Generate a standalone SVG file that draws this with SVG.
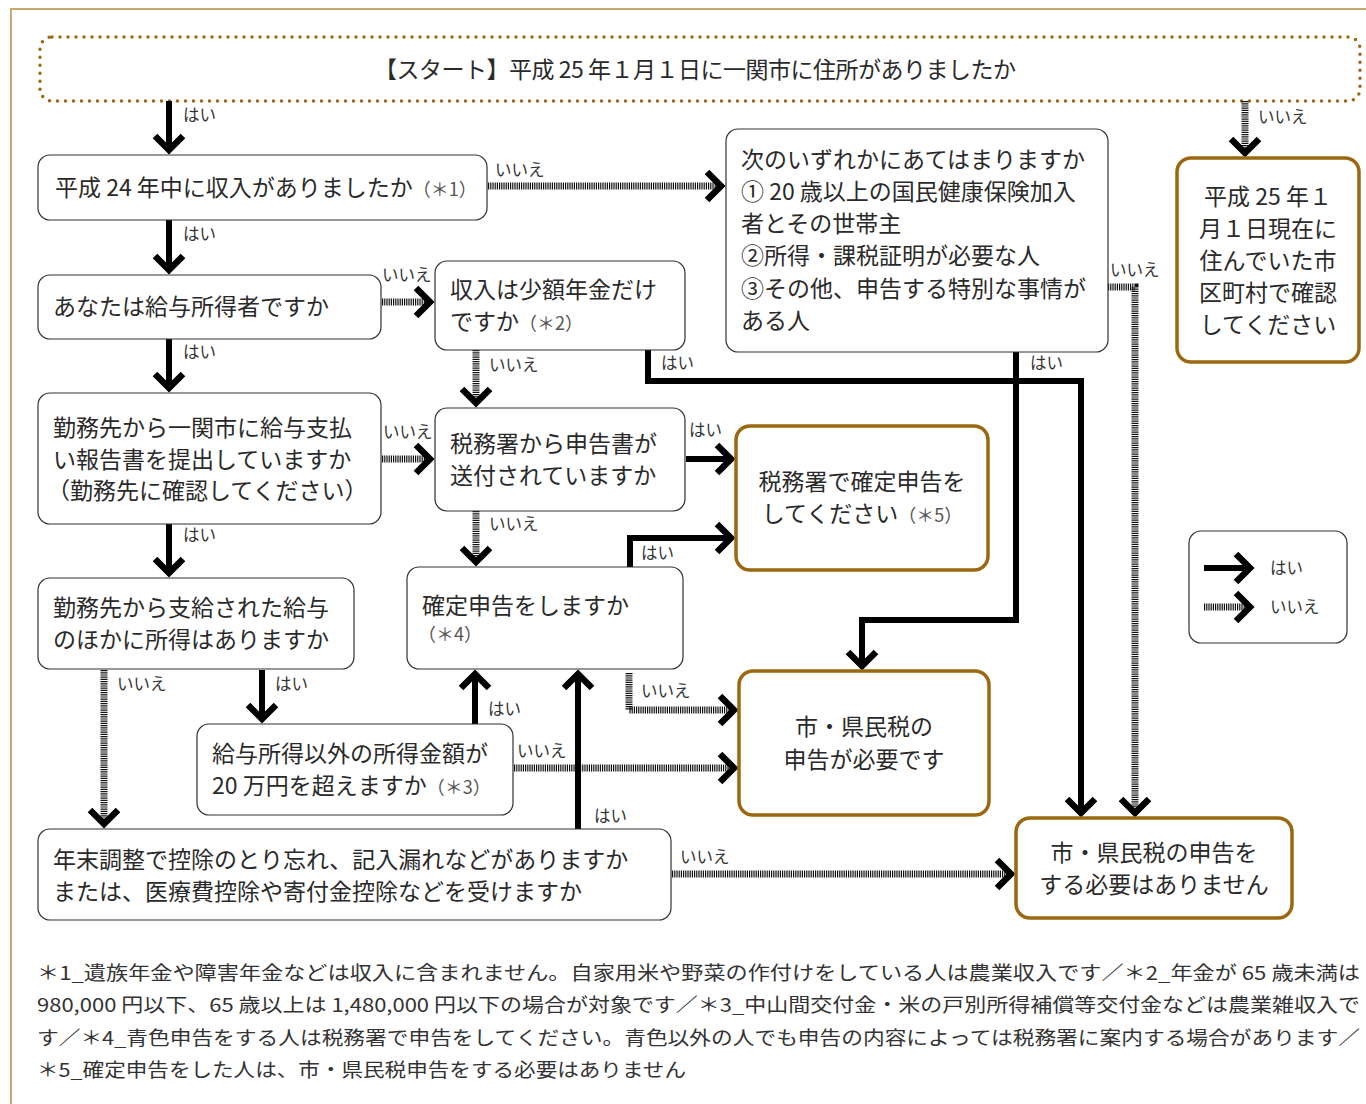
<svg xmlns="http://www.w3.org/2000/svg" width="1366" height="1104" viewBox="0 0 1366 1104">
<defs>
<marker id="ah" markerUnits="userSpaceOnUse" viewBox="-25 -20 30 40" markerWidth="30" markerHeight="40" refX="0" refY="0" orient="auto" overflow="visible">
<path d="M-14,-14 L0,0 L-14,14" fill="none" stroke="#000" stroke-width="6.5" stroke-linejoin="miter"/>
</marker>
<style>
text{font-family:"Noto Sans CJK JP","Noto Sans",sans-serif;fill:#2a2a2a}
.t{font-size:23px}
.s{font-size:18px;fill:#555}
.l{font-size:16.5px;fill:#333}
.f{font-size:19px;fill:#333}
.box{fill:#fff;stroke:#333;stroke-width:1.2}
.res{fill:#fff;stroke:#9b680f;stroke-width:3.5}
.y{fill:none;stroke:#000;stroke-width:6;marker-end:url(#ah)}
.n{fill:none;stroke:#111;stroke-width:7;stroke-dasharray:1.2 1;marker-end:url(#ah)}
.c{text-anchor:middle}
</style>
</defs>
<rect width="1366" height="1104" fill="#fff"/>
<path d="M11,1104 V9 H1366" fill="none" stroke="#c8a870" stroke-width="2"/>

<g id="start">
<rect x="40" y="37" width="1320" height="64" rx="12" fill="none" stroke="#9b680f" stroke-width="3.5" stroke-dasharray="0 8" stroke-linecap="round"/>
<text class="t" x="374" y="78" textLength="642" lengthAdjust="spacing">【スタート】平成 25 年１月１日に一関市に住所がありましたか</text>
</g>

<g id="connectors">
<path class="y" d="M169,101 V150"/>
<path class="n" d="M1245,101 V153"/>
<path class="n" d="M488,186 H721"/>
<path class="y" d="M169,220 V270"/>
<path class="n" d="M382,302 H430"/>
<path class="y" d="M169,339 V388"/>
<path class="n" d="M476,350 V403"/>
<path class="y" d="M648,350 V381 H1081 V813"/>
<path class="y" d="M1016,352 V620 H862 V666"/>
<path class="n" d="M1108,287 H1135 V813"/>
<path class="n" d="M382,459 H430"/>
<path class="y" d="M169,524 V573"/>
<path class="y" d="M686,459 H731"/>
<path class="n" d="M476,511 V562"/>
<path class="y" d="M630,567 V538 H731"/>
<path class="n" d="M629,673 V710 H734"/>
<path class="n" d="M104,670 V824"/>
<path class="y" d="M262,670 V719"/>
<path class="y" d="M475,724 V674"/>
<path class="n" d="M514,768 H734"/>
<path class="y" d="M578,829 V674"/>
<path class="n" d="M672,874 H1011"/>
<text class="l" x="183" y="121">はい</text>
<text class="l" x="1258" y="123">いいえ</text>
<text class="l" x="495" y="176">いいえ</text>
<text class="l" x="183" y="240">はい</text>
<text class="l" x="382" y="281">いいえ</text>
<text class="l" x="183" y="358">はい</text>
<text class="l" x="489" y="371">いいえ</text>
<text class="l" x="661" y="369">はい</text>
<text class="l" x="1030" y="369">はい</text>
<text class="l" x="1110" y="276">いいえ</text>
<text class="l" x="383" y="438">いいえ</text>
<text class="l" x="689" y="436">はい</text>
<text class="l" x="183" y="541">はい</text>
<text class="l" x="489" y="530">いいえ</text>
<text class="l" x="641" y="559">はい</text>
<text class="l" x="641" y="697">いいえ</text>
<text class="l" x="117" y="690">いいえ</text>
<text class="l" x="275" y="690">はい</text>
<text class="l" x="488" y="715">はい</text>
<text class="l" x="517" y="757">いいえ</text>
<text class="l" x="594" y="822">はい</text>
<text class="l" x="680" y="863">いいえ</text>
</g>

<g id="q1">
<rect class="box" x="38" y="155" width="449" height="65" rx="12"/>
<text class="t" x="55" y="196">平成 24 年中に収入がありましたか<tspan class="s">（＊1）</tspan></text>
</g>
<g id="q2">
<rect class="box" x="38" y="275" width="343" height="64" rx="12"/>
<text class="t" x="53" y="315">あなたは給与所得者ですか</text>
</g>
<g id="q3">
<rect class="box" x="38" y="393" width="343" height="131" rx="12"/>
<text class="t" x="53" y="436">勤務先から一関市に給与支払</text>
<text class="t" x="53" y="468">い報告書を提出していますか</text>
<text class="t" x="47" y="499">（勤務先に確認してください）</text>
</g>
<g id="q4">
<rect class="box" x="38" y="578" width="316" height="91" rx="12"/>
<text class="t" x="53" y="616">勤務先から支給された給与</text>
<text class="t" x="53" y="648">のほかに所得はありますか</text>
</g>
<g id="q5">
<rect class="box" x="197" y="724" width="316" height="91" rx="12"/>
<text class="t" x="212" y="762">給与所得以外の所得金額が</text>
<text class="t" x="212" y="794">20 万円を超えますか<tspan class="s">（＊3）</tspan></text>
</g>
<g id="q6">
<rect class="box" x="38" y="829" width="633" height="91" rx="12"/>
<text class="t" x="53" y="868">年末調整で控除のとり忘れ、記入漏れなどがありますか</text>
<text class="t" x="53" y="900">または、医療費控除や寄付金控除などを受けますか</text>
</g>
<g id="q7">
<rect class="box" x="435" y="261" width="250" height="89" rx="12"/>
<text class="t" x="450" y="298">収入は少額年金だけ</text>
<text class="t" x="450" y="330">ですか<tspan class="s">（＊2）</tspan></text>
</g>
<g id="q8">
<rect class="box" x="435" y="408" width="250" height="103" rx="12"/>
<text class="t" x="450" y="452">税務署から申告書が</text>
<text class="t" x="450" y="484">送付されていますか</text>
</g>
<g id="q9">
<rect class="box" x="407" y="567" width="276" height="102" rx="12"/>
<text class="t" x="422" y="614">確定申告をしますか</text>
<text class="s" x="418" y="641">（＊4）</text>
</g>
<g id="q10">
<rect class="box" x="726" y="129" width="382" height="223" rx="12"/>
<text class="t" x="741" y="168">次のいずれかにあてはまりますか</text>
<text class="t" x="741" y="200">① 20 歳以上の国民健康保険加入</text>
<text class="t" x="741" y="232">者とその世帯主</text>
<text class="t" x="741" y="264">②所得・課税証明が必要な人</text>
<text class="t" x="741" y="297">③その他、申告する特別な事情が</text>
<text class="t" x="741" y="329">ある人</text>
</g>
<g id="r1">
<rect class="res" x="736" y="426" width="252" height="144" rx="14"/>
<text class="t c" x="862" y="490">税務署で確定申告を</text>
<text class="t c" x="862" y="522">してください<tspan class="s">（＊5）</tspan></text>
</g>
<g id="r2">
<rect class="res" x="739" y="671" width="250" height="144" rx="14"/>
<text class="t c" x="864" y="735">市・県民税の</text>
<text class="t c" x="864" y="768">申告が必要です</text>
</g>
<g id="r3">
<rect class="res" x="1016" y="818" width="276" height="100" rx="14"/>
<text class="t c" x="1154" y="861">市・県民税の申告を</text>
<text class="t c" x="1154" y="893">する必要はありません</text>
</g>
<g id="r4">
<rect class="res" x="1177" y="158" width="182" height="204" rx="14"/>
<text class="t c" x="1268" y="205">平成 25 年１</text>
<text class="t c" x="1268" y="237">月１日現在に</text>
<text class="t c" x="1268" y="269">住んでいた市</text>
<text class="t c" x="1268" y="301">区町村で確認</text>
<text class="t c" x="1268" y="333">してください</text>
</g>

<g id="legend">
<rect class="box" x="1189" y="531" width="158" height="112" rx="12"/>
<path class="y" d="M1204,568 H1250"/>
<path class="n" d="M1204,607 H1250"/>
<text class="l" x="1270" y="574">はい</text>
<text class="l" x="1270" y="613">いいえ</text>
</g>

<g id="notes">
<text class="f" x="37" y="980" textLength="1323" lengthAdjust="spacingAndGlyphs">＊1_遺族年金や障害年金などは収入に含まれません。自家用米や野菜の作付けをしている人は農業収入です／＊2_年金が 65 歳未満は</text>
<text class="f" x="37" y="1012" textLength="1323" lengthAdjust="spacingAndGlyphs">980,000 円以下、65 歳以上は 1,480,000 円以下の場合が対象です／＊3_中山間交付金・米の戸別所得補償等交付金などは農業雑収入で</text>
<text class="f" x="37" y="1045" textLength="1323" lengthAdjust="spacingAndGlyphs">す／＊4_青色申告をする人は税務署で申告をしてください。青色以外の人でも申告の内容によっては税務署に案内する場合があります／</text>
<text class="f" x="37" y="1077" textLength="649" lengthAdjust="spacingAndGlyphs">＊5_確定申告をした人は、市・県民税申告をする必要はありません</text>
</g>
</svg>
